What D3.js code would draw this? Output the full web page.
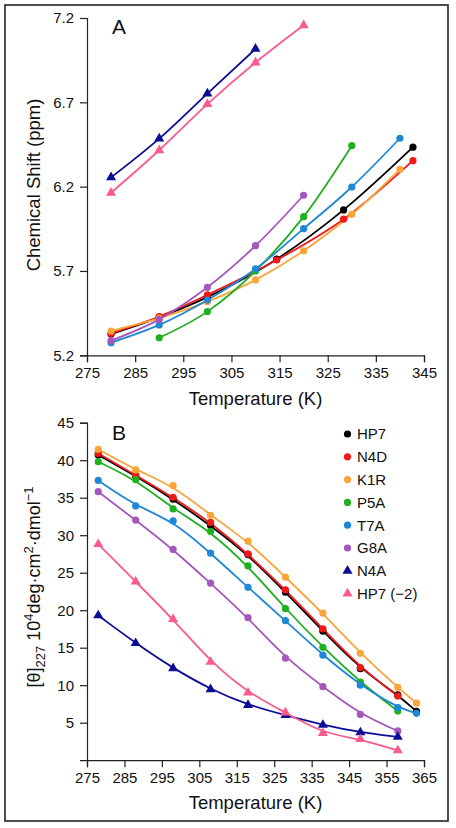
<!DOCTYPE html>
<html><head><meta charset="utf-8">
<script src="https://cdn.jsdelivr.net/npm/d3@7"></script>
<style>body{margin:0;background:#fff}svg text{font-family:"Liberation Sans",Arial,sans-serif;fill:#111}</style>
</head><body>
<svg id="c" width="456" height="828"></svg>
<script>
// ---------- Panel A data (chemical shift, ppm) ----------
const aTicksX = [275,285,295,305,315,325,335,345];
const aTicksY = [5.2,5.7,6.2,6.7,7.2];
const aHP7_T  = [280,290,300,314.4,328.3,342.7];
const aHP7_V  = [5.326,5.425,5.545,5.77,6.062,6.434];
const aN4D_T  = [280,290,300,314.4,328.3,342.7];
const aN4D_V  = [5.33,5.43,5.558,5.765,6.007,6.354];
const aK1R_T  = [280,290,300,310,320,330,340];
const aK1R_V  = [5.344,5.42,5.518,5.647,5.82,6.036,6.303];
const aP5A_T  = [290,300,310,320,330];
const aP5A_V  = [5.304,5.459,5.70,6.022,6.443];
const aT7A_T  = [280,290,300,310,320,330,340];
const aT7A_V  = [5.275,5.38,5.528,5.712,5.951,6.198,6.487];
const aG8A_T  = [280,290,300,310,320];
const aG8A_V  = [5.287,5.413,5.603,5.85,6.149];
const aN4A_T  = [280,290,300,310];
const aN4A_V  = [6.255,6.485,6.752,7.017];
const aHP7m2_T = [280,290,300,310,320];
const aHP7m2_V = [6.164,6.416,6.689,6.936,7.157];

// ---------- Panel B data ([theta]227) ----------
const bTicksX = [275,285,295,305,315,325,335,345,355,365];
const bTicksY = [5,10,15,20,25,30,35,40,45];
const bHP7_T  = [278,288,298,308,318,328,338,348,358,363];
const bHP7_V  = [40.7,37.9,34.8,31.3,27.4,22.4,17.2,12.2,8.7,6.5];
const bN4D_T  = [278,288,298,308,318,328,338,348,358];
const bN4D_V  = [40.9,38.0,35.05,31.7,27.5,22.7,17.5,12.35,8.55];
const bK1R_T  = [278,288,298,308,318,328,338,348,358,363];
const bK1R_V  = [41.45,38.7,36.6,32.65,29.2,24.4,19.6,14.25,9.7,7.6];
const bP5A_T  = [278,288,298,308,318,328,338,348,358];
const bP5A_V  = [39.8,37.4,33.5,30.5,25.9,20.2,15.05,10.4,6.55];
const bT7A_T  = [278,288,298,308,318,328,338,348,358,363];
const bT7A_V  = [37.3,33.9,31.9,27.6,23.05,18.6,14.0,10.0,7.0,6.25];
const bG8A_T  = [278,288,298,308,318,328,338,348,358];
const bG8A_V  = [35.8,32.0,28.1,23.6,19.0,13.6,9.8,6.1,3.9];
const bN4A_T  = [278,288,298,308,318,328,338,348,358];
const bN4A_V  = [19.3,15.6,12.25,9.45,7.35,6.0,4.7,3.7,3.1];
const bHP7m2_T = [278,288,298,308,318,328,338,348,358];
const bHP7m2_V = [28.8,23.8,18.8,13.1,9.0,6.35,3.6,2.8,1.3];

const names   = ["HP7","N4D","K1R","P5A","T7A","G8A","N4A","HP7 (\u22122)"];
const colors  = ["#000000","#f01818","#fba43a","#1fb01f","#1e88d6","#a458bc","#0c0c96","#fb5a8e"];
const shapes  = ["circle","circle","circle","circle","circle","circle","triangle","triangle"];

const aT = [aHP7_T,aN4D_T,aK1R_T,aP5A_T,aT7A_T,aG8A_T,aN4A_T,aHP7m2_T];
const aV = [aHP7_V,aN4D_V,aK1R_V,aP5A_V,aT7A_V,aG8A_V,aN4A_V,aHP7m2_V];
const bT = [bHP7_T,bN4D_T,bK1R_T,bP5A_T,bT7A_T,bG8A_T,bN4A_T,bHP7m2_T];
const bV = [bHP7_V,bN4D_V,bK1R_V,bP5A_V,bT7A_V,bG8A_V,bN4A_V,bHP7m2_V];

const svg = d3.select("#c");
svg.append("rect").attr("x",5).attr("y",5).attr("width",443).attr("height",816)
  .attr("fill","none").attr("stroke","#222").attr("stroke-width",1.6);

const triPath = d3.symbol().type(d3.symbolTriangle).size(44);

function styleAxis(g){
  g.select(".domain").attr("stroke","#222").attr("stroke-width",1.2);
  g.selectAll(".tick line").attr("stroke","#222").attr("stroke-width",1.2);
  g.selectAll(".tick text").attr("font-size",15).attr("fill","#111");
}

function panel(cfg){
  const {x,y,T,V,curve,ticksX,ticksY,fmtY,label,labelY,ytitle,ytitleY,xtitleY,xAxisY} = cfg;
  const gx = svg.append("g").attr("transform",`translate(0,${xAxisY})`)
    .call(d3.axisBottom(x).tickValues(ticksX).tickSize(7).tickPadding(5).tickFormat(d3.format("d")));
  styleAxis(gx);
  const gy = svg.append("g").attr("transform",`translate(${x.range()[0]},0)`)
    .call(d3.axisLeft(y).tickValues(ticksY).tickSize(7).tickPadding(6).tickFormat(fmtY));
  styleAxis(gy);
  const order = [0,1,2,3,4,5,6,7];
  order.forEach(i=>{
    const pts = T[i].map((t,k)=>[t,V[i][k]]);
    const line = d3.line().x(d=>x(d[0])).y(d=>y(d[1])).curve(curve);
    svg.append("path").attr("d",line(pts)).attr("fill","none")
      .attr("stroke",colors[i]).attr("stroke-width",1.8);
  });
  order.forEach(i=>{
    const pts = T[i].map((t,k)=>[t,V[i][k]]);
    const g = svg.append("g").attr("fill",colors[i]);
    if(shapes[i]==="circle"){
      g.selectAll("circle").data(pts).join("circle")
        .attr("cx",d=>x(d[0])).attr("cy",d=>y(d[1])).attr("r",3.6);
    } else {
      g.selectAll("path").data(pts).join("path").attr("d",triPath)
        .attr("transform",d=>`translate(${x(d[0])},${y(d[1])})`);
    }
  });
  svg.append("text").attr("x",112).attr("y",labelY).attr("font-size",21).text(label);
  svg.append("text").attr("x",(x.range()[0]+x.range()[1])/2).attr("y",xtitleY)
    .attr("text-anchor","middle").attr("font-size",18.5).text("Temperature (K)");
  ytitle(ytitleY);
}

const xA = d3.scaleLinear().domain([275,345]).range([87,424]);
const yA = d3.scaleLinear().domain([5.2,7.2]).range([355.3,18]);
panel({x:xA,y:yA,T:aT,V:aV,curve:d3.curveMonotoneX,ticksX:aTicksX,ticksY:aTicksY,
  fmtY:d3.format(".1f"),label:"A",labelY:34,xAxisY:355.3,xtitleY:405,ytitleY:185,
  ytitle:(cy)=>{
    svg.append("text").attr("transform",`translate(40,${cy}) rotate(-90)`)
      .attr("text-anchor","middle").attr("font-size",18.5).text("Chemical Shift (ppm)");
  }});

const xB = d3.scaleLinear().domain([275,365]).range([87,424]);
const yB = d3.scaleLinear().domain([0,45]).range([760.2,422.7]);
panel({x:xB,y:yB,T:bT,V:bV,curve:d3.curveBasis,ticksX:bTicksX,ticksY:bTicksY,
  fmtY:d3.format("d"),label:"B",labelY:440,xAxisY:760.2,xtitleY:808.5,ytitleY:587,
  ytitle:(cy)=>{
    const t = svg.append("text").attr("transform",`translate(40,${cy}) rotate(-90)`)
      .attr("text-anchor","middle").attr("font-size",18);
    t.append("tspan").text("[\u03b8]");
    t.append("tspan").attr("font-size",13).attr("dy",5).text("227");
    t.append("tspan").attr("dy",-5).text(" 10");
    t.append("tspan").attr("font-size",13).attr("dy",-7).text("4");
    t.append("tspan").attr("dy",7).text("deg\u00b7cm");
    t.append("tspan").attr("font-size",13).attr("dy",-7).text("2");
    t.append("tspan").attr("dy",7).text("\u00b7dmol");
    t.append("tspan").attr("font-size",13).attr("dy",-7).text("\u22121");
  }});

// legend
const lg = svg.append("g");
names.forEach((n,i)=>{
  const cy = 434 + i*22.8;
  if(shapes[i]==="circle"){
    lg.append("circle").attr("cx",347.5).attr("cy",cy).attr("r",3.6).attr("fill",colors[i]);
  } else {
    lg.append("path").attr("d",triPath).attr("transform",`translate(347.5,${cy})`).attr("fill",colors[i]);
  }
  lg.append("text").attr("x",357).attr("y",cy+5.3).attr("font-size",15).text(n);
});
</script>
</body></html>
